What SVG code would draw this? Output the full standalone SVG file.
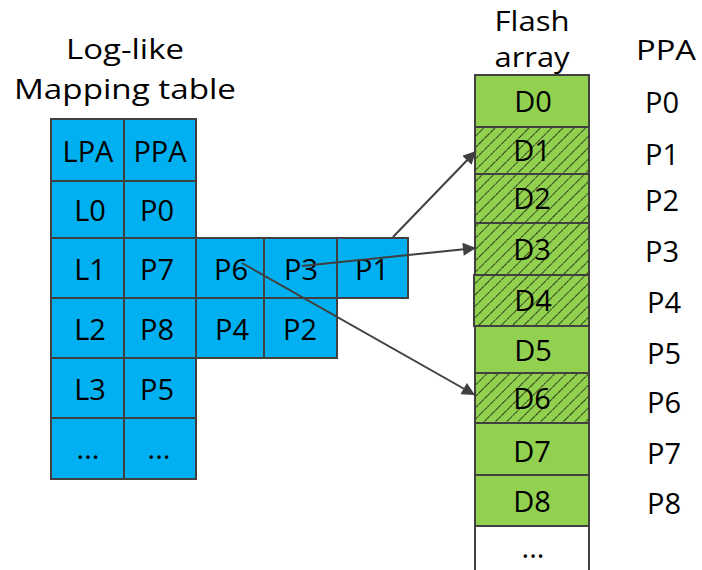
<svg xmlns="http://www.w3.org/2000/svg" width="702" height="570" viewBox="0 0 702 570">
  <defs>
    <pattern id="hatch" width="8" height="8" patternUnits="userSpaceOnUse" patternTransform="rotate(45)">
      <rect width="8" height="8" fill="#92D050"/>
      <line x1="0" y1="0" x2="0" y2="8" stroke="#000" stroke-width="1.4" stroke-dasharray="3.5 0.8"/>
    </pattern>
    <marker id="arrow" viewBox="0 0 10 10" refX="10" refY="5" markerWidth="7" markerHeight="6.5" markerUnits="strokeWidth" orient="auto">
      <path d="M0,0 L10,5 L0,10 z" fill="#404040"/>
    </marker>
    <style>
      .cell { fill: #00B0F0; stroke: #404040; stroke-width: 2; }
      .flash { fill: #92D050; stroke: #404040; stroke-width: 2; }
      .hatched { fill: url(#hatch); stroke: #404040; stroke-width: 2; }
      .empty { fill: #ffffff; stroke: #404040; stroke-width: 2; }
      text { font-family: "Open Sans", "DejaVu Sans", sans-serif; font-size: 29px; fill: #000; text-anchor: middle; dominant-baseline: central; }
      .head { font-size: 28px; }
      .conn { stroke: #404040; stroke-width: 2; fill: none; marker-end: url(#arrow); }
    </style>
  </defs>

  <rect width="702" height="570" fill="#ffffff"/>

  <!-- Titles -->
  <g id="title-table">
    <text class="head" x="125" y="48" textLength="118" lengthAdjust="spacingAndGlyphs">Log-like</text>
    <text class="head" x="125" y="88" textLength="222" lengthAdjust="spacingAndGlyphs">Mapping table</text>
  </g>
  <g id="title-flash">
    <text class="head" x="532" y="20" textLength="75" lengthAdjust="spacingAndGlyphs">Flash</text>
    <text class="head" x="532" y="56" textLength="75" lengthAdjust="spacingAndGlyphs">array</text>
  </g>
  <g id="title-ppa">
    <text class="head" x="666" y="49" textLength="60" lengthAdjust="spacingAndGlyphs">PPA</text>
  </g>

  <!-- Mapping table -->
  <g id="mapping-table">
    <rect class="cell" x="51" y="119" width="73" height="62"/>
    <rect class="cell" x="124" y="119" width="72" height="62"/>
    <rect class="cell" x="51" y="181" width="73" height="57"/>
    <rect class="cell" x="124" y="181" width="72" height="57"/>
    <rect class="cell" x="51" y="238" width="73" height="60"/>
    <rect class="cell" x="124" y="238" width="72" height="60"/>
    <rect class="cell" x="51" y="298" width="73" height="60"/>
    <rect class="cell" x="124" y="298" width="72" height="60"/>
    <rect class="cell" x="51" y="358" width="73" height="60"/>
    <rect class="cell" x="124" y="358" width="72" height="60"/>
    <rect class="cell" x="51" y="418" width="73" height="61"/>
    <rect class="cell" x="124" y="418" width="72" height="61"/>
    <text x="88" y="150">LPA</text>
    <text x="160" y="150">PPA</text>
    <text x="90" y="209">L0</text>
    <text x="157" y="209">P0</text>
    <text x="90" y="268">L1</text>
    <text x="157" y="268">P7</text>
    <text x="90" y="328">L2</text>
    <text x="157" y="328">P8</text>
    <text x="90" y="388">L3</text>
    <text x="157" y="388">P5</text>
    <text x="88" y="447">...</text>
    <text x="159" y="447">...</text>
  </g>

  <!-- Log entries appended to L1 and L2 -->
  <g id="log-L1">
    <rect class="cell" x="196" y="238" width="68" height="60"/>
    <rect class="cell" x="264" y="238" width="73" height="60"/>
    <rect class="cell" x="337" y="238" width="71" height="60"/>
    <text x="231" y="268">P6</text>
    <text x="301" y="268">P3</text>
    <text x="372" y="268">P1</text>
  </g>
  <g id="log-L2">
    <rect class="cell" x="196" y="298" width="68" height="60"/>
    <rect class="cell" x="264" y="298" width="73" height="60"/>
    <text x="232" y="328">P4</text>
    <text x="300" y="328">P2</text>
  </g>

  <!-- Flash array -->
  <g id="flash-array">
    <rect class="flash" x="475" y="75" width="114" height="52"/>
    <rect class="hatched" x="475" y="127" width="114" height="47"/>
    <rect class="hatched" x="475" y="174" width="114" height="49"/>
    <rect class="hatched" x="475" y="223" width="114" height="52"/>
    <rect class="hatched" x="474" y="275" width="115" height="51"/>
    <rect class="flash" x="475" y="326" width="114" height="47"/>
    <rect class="hatched" x="475" y="373" width="114" height="50"/>
    <rect class="flash" x="475" y="423" width="114" height="52"/>
    <rect class="flash" x="475" y="475" width="114" height="51"/>
    <rect class="empty" x="475" y="526" width="114" height="60"/>
    <text x="533" y="100">D0</text>
    <text x="532" y="149">D1</text>
    <text x="532" y="197">D2</text>
    <text x="532" y="248">D3</text>
    <text x="533" y="299">D4</text>
    <text x="533" y="349">D5</text>
    <text x="532" y="397">D6</text>
    <text x="532" y="450">D7</text>
    <text x="532" y="500">D8</text>
    <text x="533" y="546">...</text>
  </g>

  <!-- PPA column -->
  <g id="ppa-labels">
    <text x="662" y="101">P0</text>
    <text x="662" y="153">P1</text>
    <text x="662" y="199">P2</text>
    <text x="662" y="250">P3</text>
    <text x="664" y="301">P4</text>
    <text x="664" y="352">P5</text>
    <text x="664" y="401">P6</text>
    <text x="664" y="452">P7</text>
    <text x="664" y="502">P8</text>
  </g>

  <!-- Connectors -->
  <g id="connectors">
    <line class="conn" x1="393" y1="237" x2="476" y2="151"/>
    <line class="conn" x1="302" y1="266" x2="476" y2="248"/>
    <line class="conn" x1="242" y1="263" x2="475" y2="395"/>
  </g>
</svg>
